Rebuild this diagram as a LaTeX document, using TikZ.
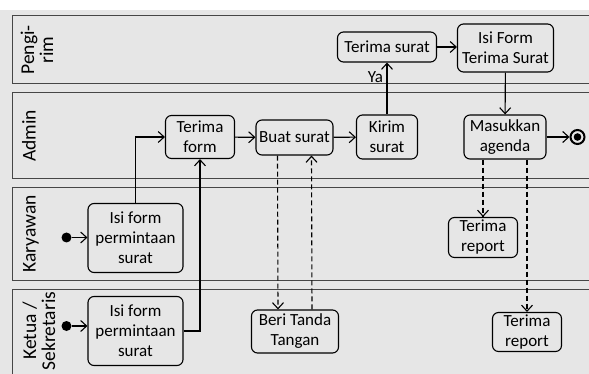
\documentclass[tikz,border=0pt]{standalone}
\usepackage{fontspec}
\setmainfont{Carlito}
\usetikzlibrary{arrows.meta}
\definecolor{bg}{RGB}{230,230,230}
\definecolor{lanec}{RGB}{70,70,70}
\begin{document}
\begin{tikzpicture}[x=1pt,y=-1pt,
  act/.style={draw, rounded corners=6pt, line width=1.1pt, align=center, inner sep=2pt,
    font=\fontsize{17}{20}\selectfont, fill=bg},
  flow/.style={line width=1.1pt, -{Straight Barb[length=6pt,width=11pt,line width=1.1pt]}},
  dep/.style={flow, dash pattern=on 5pt off 3pt},
  lane/.style={draw=lanec, line width=0.8pt, fill=bg},
  lanelabel/.style={rotate=90, align=center, font=\fontsize{19.5}{19}\selectfont}]
% canvas
\clip (0,0) rectangle (589,374);
\fill[white] (0,0) rectangle (589,374);
\fill[bg] (0,10) rectangle (589,374);

% swimlanes
\draw[lane] (12,15) rectangle (600,83);
\draw[lane] (12,92) rectangle (600,178);
\draw[lane] (12,187) rectangle (600,280);
\draw[lane] (12,289) rectangle (600,390);

\node[lanelabel] (lpengirim) at (37,50) {Pengi-\\rim};
\node[lanelabel] (ladmin) at (29,136) {Admin};
\node[lanelabel] (lkaryawan) at (31,234) {Karyawan};
\node[lanelabel] (lketua) at (39,331) {Ketua /\\Sekretaris};

% activities
\node[act, minimum width=99pt, minimum height=30pt] (ts) at (387,47) {Terima surat};
\node[act, minimum width=96pt, minimum height=48pt] (if) at (505.5,48) {Isi Form\\Terima Surat};
\node[act, minimum width=69pt, minimum height=43pt] (tf) at (200,137) {Terima\\form};
\node[act, minimum width=77pt, minimum height=35pt] (bs) at (294.5,137.5) {Buat surat};
\node[act, minimum width=61pt, minimum height=44pt] (ks) at (387,137) {Kirim\\surat};
\node[act, minimum width=82pt, minimum height=44pt] (ma) at (505,137) {Masukkan\\agenda};
\node[act, minimum width=95pt, minimum height=69pt] (k1) at (135.5,238) {Isi form\\permintaan\\surat};
\node[act, minimum width=95pt, minimum height=69pt] (k2) at (135.5,331) {Isi form\\permintaan\\surat};
\node[act, minimum width=87pt, minimum height=43pt] (bt) at (295,331.5) {Beri Tanda\\Tangan};
\node[act, minimum width=69pt, minimum height=40pt] (tr1) at (483,237.5) {Terima\\report};
\node[act, minimum width=69pt, minimum height=39pt] (tr2) at (527,332) {Terima\\report};

% initial and final states
\node[circle, fill=black, inner sep=0pt, minimum size=10pt] (s1) at (66.5,237.5) {};
\node[circle, fill=black, inner sep=0pt, minimum size=10pt] (s2) at (66.5,326) {};
\node[circle, draw=black, line width=2pt, inner sep=0pt, minimum size=14pt] (fin) at (577.5,137) {};
\fill[black] (fin.center) circle (3.8pt);

% control flow
\draw[flow] (s1) -- (s1 -| k1.west);
\draw[flow] (s2) -- (s2 -| k2.west);
\draw[flow] (k1.north) |- (tf.west);
\draw[flow] (k2.east) -| (tf.south);
\draw[flow] (tf) -- (bs);
\draw[flow] (bs) -- (ks);
\draw[flow] (ks) -- node[pos=0.72, left=0pt, font=\fontsize{17}{20}\selectfont] (ya) {Ya} (ts);
\draw[flow] (ts.east) -- (ts.east -| if.west);
\draw[flow] (if) -- (ma);
\draw[flow] (ma) -- (fin);

% dependencies
\draw[dep] ([xshift=-17pt]bs.south) -- ([xshift=-17pt]bt.north);
\draw[dep] ([xshift=17pt]bt.north) -- ([xshift=17pt]bs.south);
\draw[dep] (tr1.north |- ma.south) -- (tr1.north);
\draw[dep] (tr2.north |- ma.south) -- (tr2.north);
\end{tikzpicture}
\end{document}
